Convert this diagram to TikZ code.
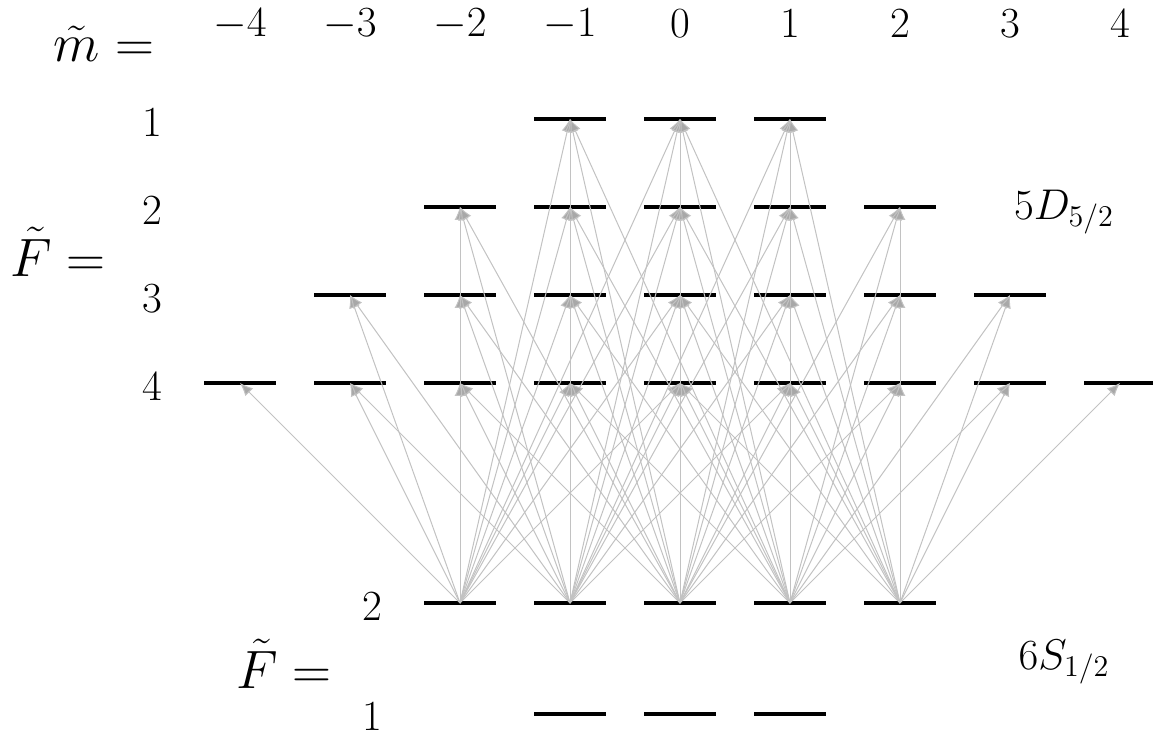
\RequirePackage{fix-cm}
\documentclass[tikz,border=0pt]{standalone}
\usetikzlibrary{arrows.meta}
\begin{document}
\begin{tikzpicture}[x=0.5pt,y=-0.5pt,
  lvl/.style={fill=black, inner sep=0pt, minimum width=36pt, minimum height=2pt},
  tr/.style={draw=black!24, line width=0.5pt, -{Latex[length=6.5pt,width=5.5pt,fill=black!34]}},
  lab/.style={font=\fontsize{21.5}{26}\selectfont, inner sep=0pt},
  eqlab/.style={font=\fontsize{27}{32}\selectfont, inner sep=0pt}]
\useasboundingbox (0,0) rectangle (1153,731);
% excited levels 5D_{5/2}
\foreach \F/\y in {1/119,2/207,3/295,4/383}{
  \foreach \m in {-\F,...,\F}{
    \node[lvl] (e\F_\m) at ({680+110*\m},\y) {};
  }
}
% ground levels 6S_{1/2}
\foreach \m in {-2,...,2}{ \node[lvl] (g2_\m) at ({680+110*\m},603) {}; }
\foreach \m in {-1,0,1}{ \node[lvl] (g1_\m) at ({680+110*\m},714) {}; }
% transitions
\foreach \g in {-2,...,2}{
  \foreach \F in {1,...,4}{
    \foreach \d in {-2,...,2}{
      \pgfmathtruncatemacro\mm{\g+\d}
      \pgfmathtruncatemacro\ok{abs(\mm)<=\F}
      \ifnum\ok=1 \draw[tr] (g2_\g.center) -- (e\F_\mm.center); \fi
    }
  }
}
% labels
\node[eqlab] (mlab) at (104,44) {$\tilde m =$};
\foreach \m in {-4,...,4}{ \node[lab] (mv\m) at ({680+110*\m},24) {$\m$}; }
\node[eqlab] (Flab) at (58,252) {$\tilde F =$};
\foreach \F/\y in {1/123,2/211,3/299,4/387}{ \node[lab] (Fv\F) at (152,\y) {$\F$}; }
\node[eqlab] (gFlab) at (284,664) {$\tilde F =$};
\node[lab] (gF2) at (372,607) {$2$};
\node[lab] (gF1) at (372,717) {$1$};
\node[lab] (Dlab) at (1064,212) {$5D_{5/2}$};
\node[lab] (Slab) at (1064,662) {$6S_{1/2}$};
\end{tikzpicture}
\end{document}
